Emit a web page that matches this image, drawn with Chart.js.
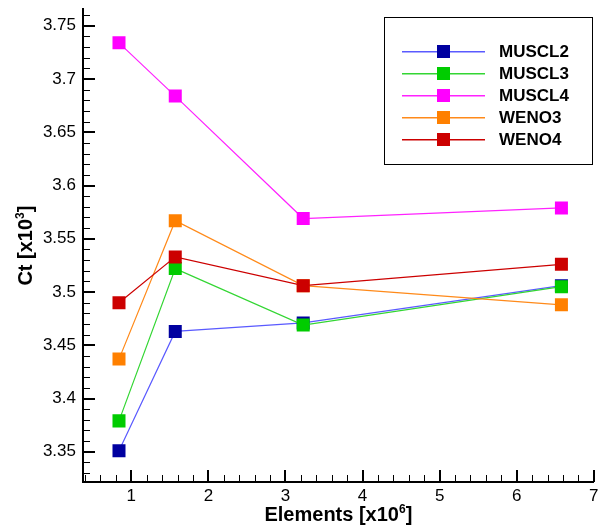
<!DOCTYPE html>
<html>
<head>
<meta charset="utf-8">
<script src="https://cdn.jsdelivr.net/npm/chart.js@4/dist/chart.umd.min.js"></script>
<style>
  html, body { margin: 0; padding: 0; background: #fff; }
  #wrap { width: 603px; height: 529px; }
</style>
</head>
<body>
<div id="wrap"><canvas id="ct" width="603" height="529"></canvas></div>
<script>
// mesh sizes (millions of elements) and thrust coefficient per scheme
const elements = [0.84, 1.57, 3.23, 6.58];
const muscl2 = [3.351, 3.463, 3.471, 3.506];
const muscl3 = [3.379, 3.522, 3.469, 3.505];
const muscl4 = [3.734, 3.684, 3.569, 3.579];
const weno3 = [3.437, 3.567, 3.506, 3.488];
const weno4 = [3.490, 3.533, 3.506, 3.526];

const schemes = ['MUSCL2', 'MUSCL3', 'MUSCL4', 'WENO3', 'WENO4'];
const xTicks = [1, 2, 3, 4, 5, 6, 7];
const yTicks = [3.35, 3.4, 3.45, 3.5, 3.55, 3.6, 3.65, 3.7, 3.75];

const FONT = '"Liberation Sans", Arial, Helvetica, sans-serif';

function series(label, values, lineColor, markColor, order) {
  return {
    label: label,
    data: elements.map(function(x, i) { return { x: x, y: values[i] }; }),
    borderColor: lineColor,
    borderWidth: 1.2,
    pointStyle: 'rect',
    pointRadius: 9.2,
    pointBackgroundColor: markColor,
    pointBorderWidth: 0,
    order: order
  };
}

// text with a raised exponent: parts = [[text, isSup], ...], centred on 0
function drawSupText(ctx, parts, size) {
  let w = 0;
  parts.forEach(function(p) {
    ctx.font = 'bold ' + (p[1] ? Math.round(size * 0.62) : size) + 'px ' + FONT;
    w += ctx.measureText(p[0]).width;
  });
  let x = -w / 2;
  parts.forEach(function(p) {
    ctx.font = 'bold ' + (p[1] ? Math.round(size * 0.62) : size) + 'px ' + FONT;
    ctx.fillText(p[0], x, p[1] ? -size * 0.4 : 0);
    x += ctx.measureText(p[0]).width;
  });
}

// inward tick marks on both axes
const innerTicks = {
  id: 'innerTicks',
  afterDatasetsDraw: function(chart) {
    const ctx = chart.ctx;
    const xs = chart.scales.x, ys = chart.scales.y;
    const area = chart.chartArea;
    ctx.save();
    ctx.fillStyle = '#000';
    for (let j = 2; j <= 35; j++) {
      const px = Math.round(xs.getPixelForValue(j / 5));
      if (j % 5 === 0) ctx.fillRect(px - 1, area.bottom - 12, 2, 12);
      else ctx.fillRect(px, area.bottom - 7, 1, 7);
    }
    for (let k = 333; k <= 376; k++) {
      const py = Math.round(ys.getPixelForValue(k / 100));
      if (k % 5 === 0) ctx.fillRect(area.left, py - 1, 12, 2);
      else ctx.fillRect(area.left, py, 7, 1);
    }
    ctx.restore();
  }
};

// axis titles with superscript exponents
const axisTitles = {
  id: 'axisTitles',
  afterDraw: function(chart) {
    const ctx = chart.ctx;
    const area = chart.chartArea;
    ctx.save();
    ctx.fillStyle = '#000';
    ctx.textBaseline = 'alphabetic';
    ctx.translate((area.left + area.right) / 2, 521);
    drawSupText(ctx, [['Elements [x10', false], ['6', true], [']', false]], 20);
    ctx.restore();

    ctx.save();
    ctx.fillStyle = '#000';
    ctx.textBaseline = 'alphabetic';
    ctx.translate(32, (area.top + area.bottom) / 2);
    ctx.rotate(-Math.PI / 2);
    drawSupText(ctx, [['Ct [x10', false], ['3', true], [']', false]], 20);
    ctx.restore();
  }
};

// framed legend box in the upper right of the plot
const boxLegend = {
  id: 'boxLegend',
  afterDraw: function(chart) {
    const ctx = chart.ctx;
    ctx.save();
    ctx.fillStyle = '#fff';
    ctx.fillRect(384, 17, 208, 147);
    ctx.strokeStyle = '#000';
    ctx.lineWidth = 1;
    ctx.strokeRect(384.5, 17.5, 208, 147);
    chart.data.datasets.forEach(function(ds, i) {
      const y = 51 + 22 * i;
      ctx.fillStyle = ds.borderColor;
      ctx.fillRect(402, y, 83, 1.5);
      ctx.fillStyle = ds.pointBackgroundColor;
      ctx.fillRect(437, y - 6, 13, 13);
      ctx.fillStyle = '#000';
      ctx.font = 'bold 17px ' + FONT;
      ctx.textBaseline = 'middle';
      ctx.fillText(ds.label, 499, y + 1);
    });
    ctx.restore();
  }
};

new Chart(document.getElementById('ct'), {
  type: 'line',
  data: {
    datasets: [
      series(schemes[0], muscl2, '#5a5aff', '#0000a0', 5),
      series(schemes[1], muscl3, '#33d633', '#00cc00', 4),
      series(schemes[2], muscl4, '#ff22ff', '#ff00ff', 3),
      series(schemes[3], weno3, '#ff8a1a', '#ff8000', 2),
      series(schemes[4], weno4, '#cc0000', '#cc0000', 1)
    ]
  },
  options: {
    responsive: false,
    animation: false,
    layout: { padding: { top: 9, right: 5, left: 0, bottom: 0 } },
    plugins: { legend: { display: false }, tooltip: { enabled: false } },
    scales: {
      x: {
        type: 'linear', min: 0.373, max: 7,
        afterBuildTicks: function(s) { s.ticks = xTicks.map(function(v) { return { value: v }; }); },
        afterFit: function(s) { s.height = 47; },
        grid: { display: false, drawTicks: false },
        border: { display: true, color: '#000', width: 2 },
        ticks: { color: '#000', font: { family: FONT, size: 17 }, padding: 4, maxRotation: 0 }
      },
      y: {
        type: 'linear', min: 3.3216, max: 3.7656,
        afterBuildTicks: function(s) { s.ticks = yTicks.map(function(v) { return { value: v }; }); },
        afterFit: function(s) { s.width = 83; s.paddingTop = 0; s.paddingBottom = 0; },
        grid: { display: false, drawTicks: false },
        border: { display: true, color: '#000', width: 2 },
        ticks: {
          color: '#000',
          font: { family: FONT, size: 17 },
          padding: 7,
          callback: function(v) { return String(Math.round(v * 100) / 100); }
        }
      }
    }
  },
  plugins: [innerTicks, axisTitles, boxLegend]
});
</script>
</body>
</html>
